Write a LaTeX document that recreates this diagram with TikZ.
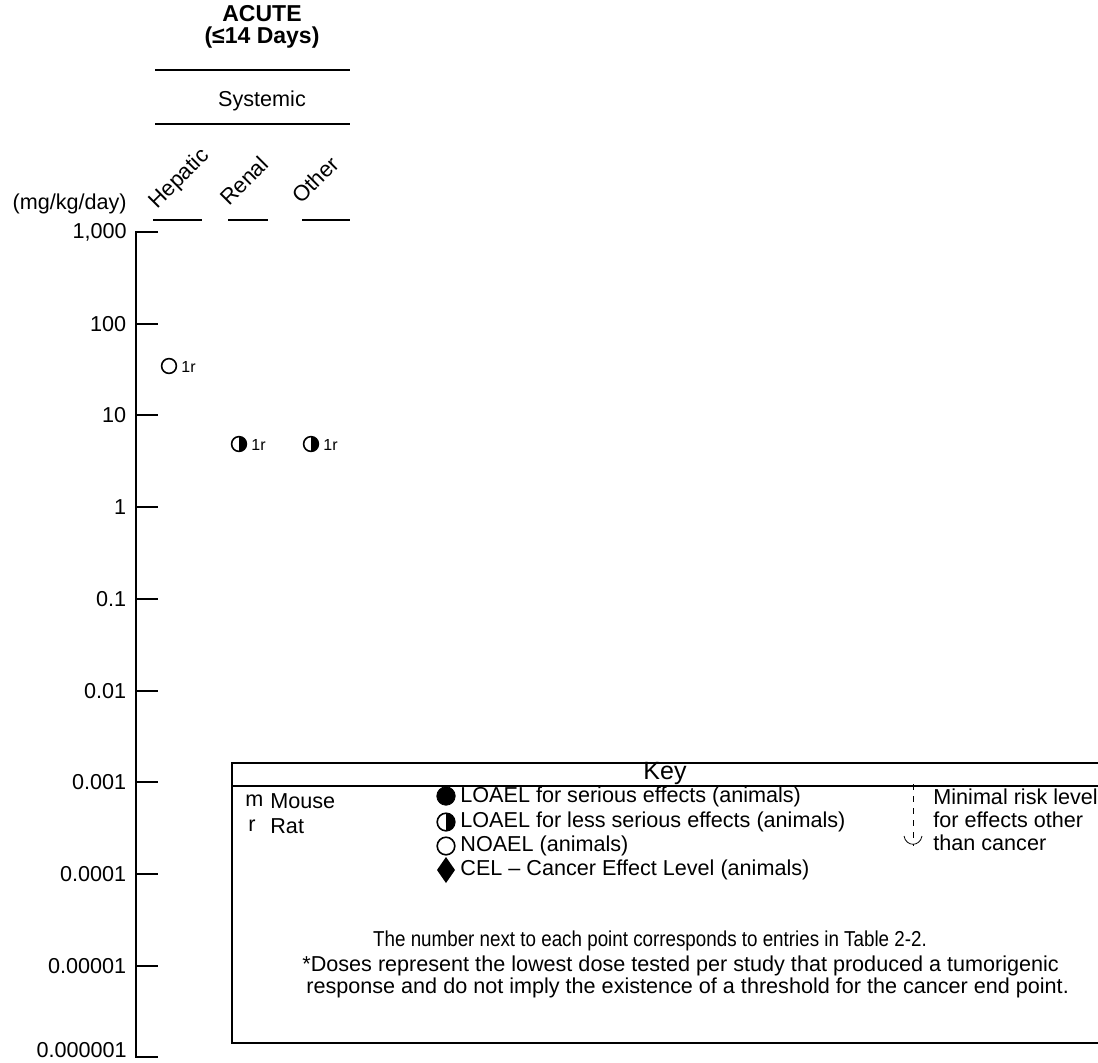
\documentclass[tikz,border=0pt]{standalone}
\usepackage{fontspec}
\setmainfont{Liberation Sans}
\usepackage{graphicx}
\usepackage{tikz}
\usetikzlibrary{calc}

\begin{document}
\begin{tikzpicture}[x=0.5pt,y=-0.5pt,
    lab/.style={inner sep=0pt,font=\fontsize{10.8}{13}\selectfont},
    head/.style={inner sep=0pt,font=\fontsize{11.5}{13}\selectfont\bfseries},
    small/.style={inner sep=0pt,font=\fontsize{8}{9}\selectfont},
    rot/.style={inner sep=0pt,anchor=base west,rotate=45,font=\fontsize{11}{13}\selectfont}]
        \useasboundingbox (0,0) rectangle (1098,1062);

        % heading
        \node[head] (acute) at (262,14) {ACUTE};
        \node[head] (days) at (262,38) {(≤14 Days)};
        \draw[thick] (155,70)--(350,70);
        \node[lab] (syst) at (262,101) {Systemic};
        \draw[thick] (155,124)--(350,124);

        \node[rot] (hep) at (157,210) {Hepatic};
        \node[rot] (ren) at (229,207) {Renal};
        \node[rot] (oth) at (301,205) {Other};
        \draw[thick] (153,220)--(202,220);
        \draw[thick] (228,220)--(268,220);
        \draw[thick] (302,220)--(350,220);

        % axis
        \node[lab,anchor=east] (unit) at (127,204) {(mg/kg/day)};
        \draw[thick] (158,232)--(136,232)--(136,1057)--(158,1057);
        \draw[thick] (136,324)--(158,324) node[lab,anchor=east] at (127,324) {100};
        \draw[thick] (136,415)--(158,415) node[lab,anchor=east] at (127,415) {10};
        \draw[thick] (136,507)--(158,507) node[lab,anchor=east] at (127,507) {1};
        \draw[thick] (136,599)--(158,599) node[lab,anchor=east] at (127,599) {0.1};
        \draw[thick] (136,691)--(158,691) node[lab,anchor=east] at (127,691) {0.01};
        \draw[thick] (136,782)--(158,782) node[lab,anchor=east] at (127,782) {0.001};
        \draw[thick] (136,874)--(158,874) node[lab,anchor=east] at (127,874) {0.0001};
        \draw[thick] (136,966)--(158,966) node[lab,anchor=east] at (127,966) {0.00001};
        \node[lab,anchor=east] (top) at (127,232) {1,000};
        \node[lab,anchor=east] (bot) at (127,1050) {0.000001};

        % points
        \draw[thick] (169,366) circle (3.7pt);
        \node[small,anchor=west] (p1) at (181,367) {1r};
        \draw[thick] (239,444) circle (3.7pt);
        \fill (239,436.6) arc (90:-90:3.7pt) -- cycle;
        \node[small,anchor=west] (p2) at (251,445) {1r};
        \draw[thick] (311,444) circle (3.7pt);
        \fill (311,436.6) arc (90:-90:3.7pt) -- cycle;
        \node[small,anchor=west] (p3) at (323,445) {1r};

        % key
        \draw[thick] (1098,763)--(232,763)--(232,1043)--(1098,1043);
        \draw[thick] (232,786)--(1098,786);
        \node[inner sep=0pt,font=\fontsize{12.5}{14}\selectfont] (key) at (665,773) {Key};

        \node[lab,anchor=west] (m) at (245,801) {m};
        \node[lab,anchor=west] (mouse) at (270,801) {Mouse};
        \node[lab,anchor=west] (r) at (248,826) {r};
        \node[lab,anchor=west] (rat) at (270,826) {Rat};

        \draw[fill=black] (446,796) circle (4.6pt);
        \node[lab,anchor=west] (k1) at (460,797) {LOAEL for serious effects (animals)};
        \draw[thick] (446,822) circle (4.4pt);
        \fill (446,813.2) arc (90:-90:4.4pt) -- cycle;
        \node[lab,anchor=west] (k2) at (460,822) {LOAEL for less serious effects (animals)};
        \draw[thick] (446,846) circle (4.4pt);
        \node[lab,anchor=west] (k3) at (460,846) {NOAEL (animals)};
        \fill (446,857)--(455,870)--(446,883)--(437,870)--cycle;
        \node[lab,anchor=west] (k4) at (460,870) {CEL -- Cancer Effect Level (animals)};

        \draw[dashed] (913,784)--(913,846);
        \draw (904,836) .. controls (906,847) and (920,847) .. (922,836);
        \node[lab,anchor=west] (mrl1) at (933,797) {Minimal risk level};
        \node[lab,anchor=west] (mrl2) at (933,820) {for effects other};
        \node[lab,anchor=west] (mrl3) at (933,843) {than cancer};

        \node[lab] (note) at (650,941) {\scalebox{0.87}[1]{The number next to each point corresponds to entries in Table 2-2.}};
        \node[lab,anchor=west] (dose1) at (302,966) {*Doses represent the lowest dose tested per study that produced a tumorigenic};
        \node[lab,anchor=west] (dose2) at (306,988) {response and do not imply the existence of a threshold for the cancer end point.};

    \end{tikzpicture}
\end{document}
